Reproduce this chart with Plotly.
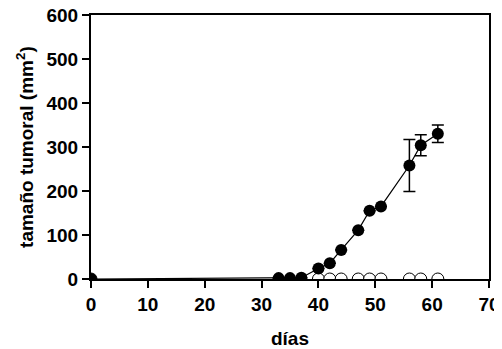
import plotly.graph_objects as go

days_treated = [0, 33, 35, 37, 40, 42, 44, 47, 49, 51, 56, 58, 61]
size_treated = [0, 2, 2, 3, 24, 36, 66, 111, 155, 165, 258, 304, 330]
err_treated = [0, 0, 0, 0, 0, 0, 0, 0, 0, 0, 59, 24, 20]

days_control = [0, 40, 42, 44, 47, 49, 51, 56, 58, 61]
size_control = [0, 0, 0, 0, 0, 0, 0, 0, 0, 0]

x_ticks = [0, 10, 20, 30, 40, 50, 60, 70]
y_ticks = [0, 100, 200, 300, 400, 500, 600]

x_title = "días"
y_title = "tamaño tumoral (mm<sup>2</sup>)"

font_family = "Liberation Sans, Arial, sans-serif"

fig = go.Figure()
fig.add_trace(go.Scatter(
    x=days_control, y=size_control, mode="markers",
    marker=dict(symbol="circle", size=12, color="white",
                line=dict(color="black", width=1)),
    showlegend=False,
))
fig.add_trace(go.Scatter(
    x=days_treated, y=size_treated, mode="lines+markers",
    line=dict(color="black", width=1.2),
    marker=dict(symbol="circle", size=12, color="black"),
    error_y=dict(type="data", array=err_treated, visible=True,
                 color="black", thickness=1.5, width=6),
    showlegend=False,
))

axis_common = dict(
    showgrid=False, zeroline=False, showline=True, linecolor="black",
    linewidth=2, mirror=True, ticks="outside", ticklen=7, tickwidth=1.5,
    tickcolor="black", automargin=False, ticklabeloverflow="allow",
    tickfont=dict(size=19, family=font_family, color="black"),
)

fig.update_layout(
    width=494, height=341,
    margin=dict(l=83, r=13, t=7, b=70),
    paper_bgcolor="white", plot_bgcolor="white",
    font=dict(family=font_family, size=19, color="black"),
    xaxis=dict(
        range=[0, 70], tickvals=x_ticks,
        ticktext=["<b>%d</b>" % v for v in x_ticks],
        ticklabelstandoff=0,
        title=dict(text="<b>%s</b>" % x_title, font=dict(size=19), standoff=18),
        **axis_common,
    ),
    yaxis=dict(
        range=[0, 600], tickvals=y_ticks,
        ticktext=["<b>%d</b>" % v for v in y_ticks],
        **axis_common,
    ),
    annotations=[dict(
        text="<b>%s</b>" % y_title, textangle=-90,
        xref="paper", yref="paper", x=-0.166, y=0.5,
        xanchor="center", yanchor="middle", showarrow=False,
        font=dict(size=19, family=font_family, color="black"),
    )],
)

fig.write_html("out.html")
